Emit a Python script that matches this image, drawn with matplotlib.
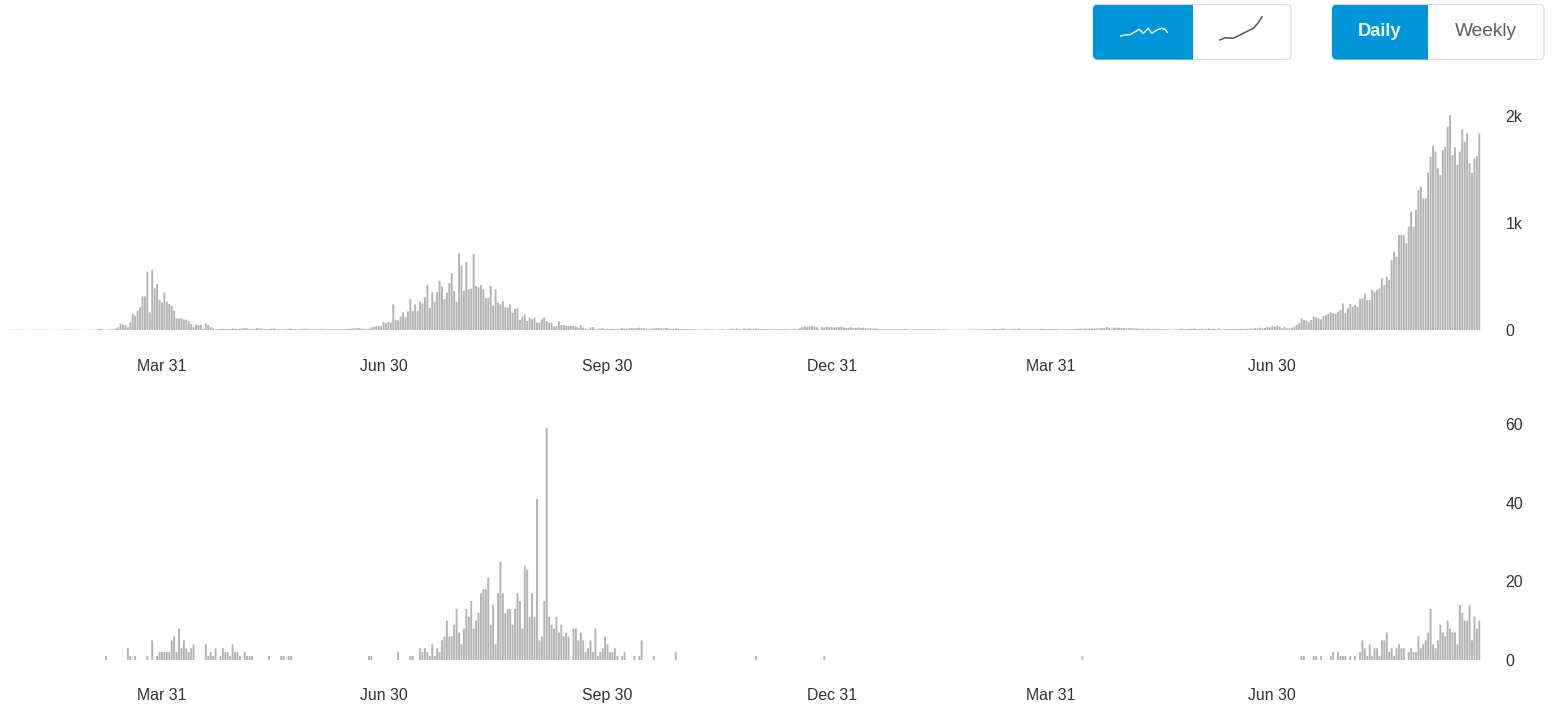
import matplotlib
matplotlib.use('Agg')
import matplotlib.pyplot as plt
import matplotlib.dates as mdates
from matplotlib.patches import FancyBboxPatch, Rectangle
import pandas as pd

plt.rcParams['font.family'] = ['Liberation Sans', 'DejaVu Sans']

start_date = '2020-01-29'
tick_dates = ['2020-03-31', '2020-06-30', '2020-09-30', '2020-12-31', '2021-03-31', '2021-06-30']
tick_labels = ['Mar 31', 'Jun 30', 'Sep 30', 'Dec 31', 'Mar 31', 'Jun 30']

# daily cases
cases_start = [2, 1, 2, 3, 2, 2, 3, 2, 1, 2, 3, 2, 2, 3, 3, 2, 2, 1, 2, 2, 3, 2, 2, 8, 1, 2, 3, 3, 2, 2, 1, 2]
cases_wave1 = [3, 2, 2, 3, 10, 10, 3, 3, 5, 8, 8, 15, 25, 59, 50, 47, 25, 72, 150, 134, 180, 212, 315, 315,
               545, 165, 564, 390, 430, 283, 258, 352, 265, 243, 227, 180, 109, 109, 109, 97, 97, 80, 56,
               25, 47, 47, 47, 10, 62, 47, 25, 15, 5]
cases_low1 = [8, 10, 12, 10, 8, 10, 15, 12, 10, 12, 15, 18, 15, 12, 10, 12, 18, 15, 12, 10, 8, 10, 12, 15, 10,
              8, 6, 8, 10, 12, 14, 10, 8, 6, 8, 10, 12, 8, 6, 8, 6, 8, 10, 8, 6, 5, 6, 8, 6, 5]
cases_wave2_up = [5, 8, 8, 10, 12, 15, 15, 18, 18, 15, 10, 10, 12, 25, 30, 35, 38, 35, 75, 65, 75, 70, 240, 95,
                  90, 125, 165, 120, 175, 290, 180, 240, 180, 265, 250, 305, 420, 205, 350, 265, 355, 460,
                  405, 290, 350, 440, 530, 365, 265]
cases_wave2_down = [716, 600, 365, 635, 380, 386, 710, 411, 400, 420, 380, 300, 300, 410, 225, 380, 255, 240,
                    270, 210, 210, 240, 160, 195, 202, 93, 125, 146, 84, 115, 100, 115, 68, 68, 100, 120, 84,
                    68, 68, 31, 37, 84, 47, 47, 37, 37, 37, 40, 31, 22, 44, 22, 12, 8, 25, 28, 8, 8, 15, 18,
                    8, 12, 8, 12, 8, 8]
cases_low2 = [12, 18, 14, 10, 16, 20, 15, 18, 22, 20, 16, 12, 8, 14, 15, 18, 20, 16, 14, 18, 15, 10, 12, 16, 14,
              8, 10, 8, 6, 5, 8, 6, 5, 4, 6, 8, 5, 4, 6, 5, 4, 6, 8, 5, 4, 6, 12, 6, 15, 5, 8, 14, 12, 14, 10,
              12, 14, 10, 8, 10, 6, 8, 10, 6, 8, 5, 8, 6, 10, 8, 6, 8, 10, 8, 18, 28, 36, 30, 34, 38, 30, 26, 6,
              28, 24, 32, 26, 30, 22, 28, 26, 32, 24, 20, 22, 26, 18, 20, 24, 18, 22, 16, 14, 18, 12, 16,
              10, 8, 6, 8, 5, 6, 8, 4, 6, 5, 8, 10, 6, 4, 5, 8, 6, 4, 6, 8, 5, 4, 6, 8, 5, 6, 4, 8, 5, 6]
cases_low3 = [2, 3, 2, 3, 2, 3, 2, 5, 6, 4, 6, 5, 6, 7, 5, 8, 6, 10, 12, 8, 10, 14, 12, 8, 6, 10, 12, 10, 14, 8,
              6, 10, 8, 6, 10, 8, 6, 10, 12, 8, 6, 10, 8, 12, 10, 6, 8, 10, 6, 5, 8, 10, 12, 14, 12, 14, 12, 15,
              14, 16, 14, 18, 20, 18, 28, 22, 12, 22, 20, 22, 18, 20, 16, 18, 20, 16, 14, 14, 10, 12, 8, 12, 10,
              8, 12, 5, 8, 4, 6, 8, 5, 4, 6, 8, 10, 12, 8, 10, 12, 10, 14, 8, 10, 12, 8, 10, 14, 10, 12, 8, 15,
              6, 5, 8, 10, 8, 10, 8, 10, 12, 10, 12, 10, 14, 12, 18, 14, 22, 16, 20, 30, 26, 38, 32, 40]
cases_wave3 = [31, 16, 31, 16, 16, 22, 31, 47, 62, 109, 93, 87, 72, 93, 125, 118, 109, 100, 131, 140,
               150, 165, 156, 150, 171, 187, 249, 156, 202, 243, 218, 234, 218, 287, 296, 343, 280, 280, 374, 358,
               374, 389, 483, 420, 498, 467, 654, 732, 685, 888, 888, 888, 810, 966, 1106, 966, 1121, 1308, 1339,
               1230, 1230, 1470, 1620, 1720, 1667, 1511, 1448, 1682, 1713, 1900, 2009, 1635, 1707, 1542, 1667,
               1875, 1760, 1838, 1558, 1470, 1604, 1626, 1838]

# daily deaths, most days are empty
deaths_spring = [1, 0, 0, 0, 0, 0, 0, 0, 0, 3, 1, 0, 1, 0, 0, 0, 0, 1, 0, 5, 0, 1, 2, 2, 2, 2, 2, 5, 6, 2, 8, 3, 5,
                 3, 2, 3, 4, 0, 0, 0, 0, 4, 1, 2, 1, 3, 0, 1, 3, 2, 2, 1, 4, 2, 2, 1, 0, 2, 1, 1, 1, 0, 0, 0, 0, 0,
                 0, 1, 0, 0, 0, 0, 1, 1, 0, 1, 1]
deaths_summer = [1, 1, 0, 0, 0, 0, 0, 0, 0, 0, 0, 0, 2, 0, 0, 0, 0, 1, 1, 0, 0, 3, 2, 3, 2, 1, 4, 1, 3, 2, 5, 6, 10,
                 6, 6, 9, 13, 7, 4, 8, 13, 11, 15, 8, 10, 12, 17, 18, 18, 21, 9, 14, 4, 17, 25, 17, 12, 13, 13, 9,
                 13, 17, 15, 8, 24, 23, 11, 17, 11, 41, 5, 6, 15, 59, 11, 9, 8, 11, 7, 9, 6, 7, 6, 0, 8, 8, 5, 7,
                 5, 2, 3, 5, 2, 8, 1, 2, 3, 6, 4, 2, 2, 3, 1, 0, 1, 2, 0, 0, 0, 1, 0, 1, 5, 0, 0, 0, 0, 1,
                 0, 0, 0, 0, 0, 0, 0, 0, 2]
deaths_recent = [1, 1, 0, 0, 0, 1, 1, 0, 1, 0, 0, 0, 1, 2, 0, 2, 1, 1, 1, 0, 1, 0, 1, 0, 2, 5, 3, 1, 4, 1, 3, 3, 1,
                 5, 5, 7, 2, 3, 1, 3, 4, 3, 3, 0, 2, 3, 2, 2, 6, 3, 4, 5, 7, 13, 4, 3, 5, 9, 7, 6, 10, 8, 7, 7, 4,
                 14, 12, 10, 10, 14, 5, 11, 8, 10]
lone_death_days = [306, 334, 440]

y_ticks_top = [0, 1000, 2000]
y_labels_top = ['0', '1k', '2k']
y_ticks_bottom = [0, 20, 40, 60]

bar_color = '#b2b2b2'
text_color = '#333333'
blue = '#0095d9'
border = '#d9d9d9'
icon_wave = [(1120.7, 36), (1125, 35), (1130, 34.7), (1135, 31.7), (1139.3, 29.3), (1143.3, 33.3), (1148.3, 28.3),
             (1151.7, 33.3), (1156.7, 30), (1161.7, 28.3), (1165, 29.3), (1167.3, 32.3)]
icon_curve = [(1220, 40), (1225, 37.7), (1233.3, 38.3), (1243.3, 33.3), (1253.3, 28.3), (1258.3, 22.7), (1262, 16.7)]

cases = (cases_start + cases_wave1 + cases_low1 + cases_wave2_up + cases_wave2_down + cases_low2 + cases_low3
         + cases_wave3)
n_days = len(cases)
deaths = [0] * n_days
deaths[39:39 + len(deaths_spring)] = deaths_spring
deaths[147:147 + len(deaths_summer)] = deaths_summer
for d in lone_death_days:
    deaths[d] = 1
deaths[530:530 + len(deaths_recent)] = deaths_recent
deaths = deaths[:n_days]

dates = pd.date_range(start_date, periods=n_days)
ticks = pd.to_datetime(tick_dates)

W, H = 1556, 705
fig = plt.figure(figsize=(W / 100, H / 100), dpi=100)

px_per_day = 2.435
day0_px = 11.0
left_px, right_px = 8, 1490
x0 = mdates.date2num(dates[0])
xlim = (x0 + (left_px - day0_px) / px_per_day, x0 + (right_px - day0_px) / px_per_day)


def make_axes(top_px, bottom_px, values, ymax, yticks, ylabels, label_pad):
    ax = fig.add_axes([left_px / W, 1 - bottom_px / H, (right_px - left_px) / W, (bottom_px - top_px) / H])
    bars = ax.bar(dates, values, width=0.78, color=bar_color, linewidth=0)
    # no pixel snapping, so the bars keep an even width
    for b in bars:
        b.set_snap(False)
    ax.set_xlim(xlim)
    ax.set_ylim(0, ymax)
    for s in ax.spines.values():
        s.set_visible(False)
    ax.patch.set_alpha(0)
    ax.set_xticks(ticks)
    ax.set_xticklabels(tick_labels, fontsize=11.4, color=text_color)
    ax.yaxis.tick_right()
    ax.set_yticks(yticks)
    ax.set_yticklabels(ylabels, fontsize=11.4, color=text_color, ha='left')
    ax.tick_params(axis='x', length=0, pad=label_pad)
    ax.tick_params(axis='y', length=0, pad=11)
    return ax


make_axes(100, 330, cases, 230 / 0.107, y_ticks_top, y_labels_top, 21.2)
make_axes(410, 660, deaths, 250 / 3.93, y_ticks_bottom, [str(v) for v in y_ticks_bottom], 20.5)

# the two toggle buttons above the charts
ui = fig.add_axes([0, 0, 1, 1], zorder=5)
ui.set_xlim(0, W)
ui.set_ylim(H, 0)
ui.axis('off')


def toggle(x1, split, x2, y1, y2):
    outline = FancyBboxPatch((x1, y1), x2 - x1, y2 - y1, boxstyle='round,pad=0,rounding_size=5',
                             facecolor='white', edgecolor=border, linewidth=0.8)
    ui.add_patch(outline)
    fill = Rectangle((x1, y1), split - x1, y2 - y1, facecolor=blue, edgecolor='none')
    ui.add_patch(fill)
    fill.set_clip_path(outline)


toggle(1093, 1193, 1291, 4.5, 59.5)
toggle(1332, 1428, 1544, 4.5, 59.5)
ui.plot(*zip(*icon_wave), color='white', linewidth=1)
ui.plot(*zip(*icon_curve), color='#555555', linewidth=1.1)
ui.text(1380, 32, 'Daily', color='#eef7fc', fontsize=13.2, fontweight='bold', ha='center', va='center')
ui.text(1486, 32, 'Weekly', color='#5f5f5f', fontsize=13.8, ha='center', va='center')

fig.savefig('out.png', dpi=100)
